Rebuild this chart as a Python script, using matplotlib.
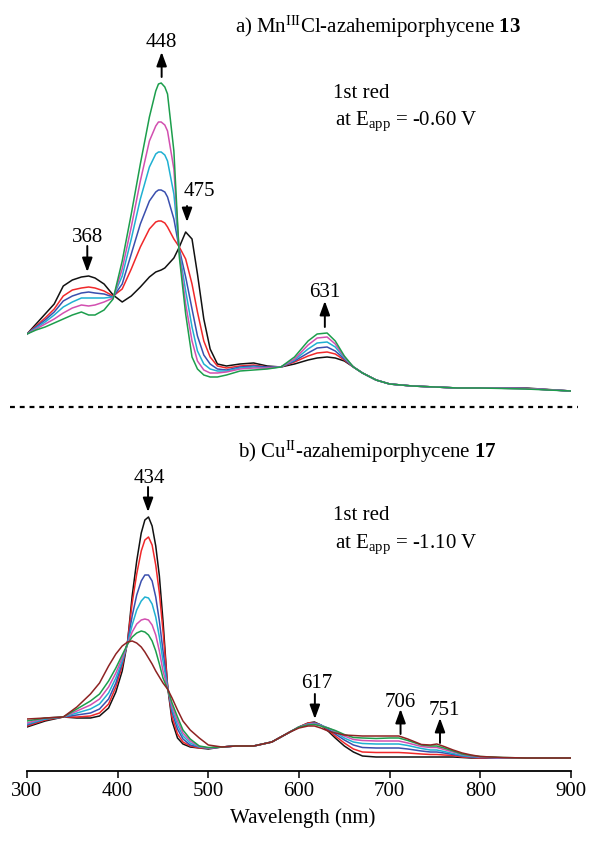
import matplotlib
matplotlib.use("Agg")
import matplotlib.pyplot as plt
from matplotlib.lines import Line2D

plt.rcParams['font.family'] = ['Liberation Serif', 'DejaVu Serif']
plt.rcParams['mathtext.fontset'] = 'custom'
plt.rcParams['mathtext.rm'] = 'Liberation Serif'
plt.rcParams['mathtext.it'] = 'Liberation Serif:italic'
plt.rcParams['mathtext.bf'] = 'Liberation Serif:bold'

# ---------------- data: panel a (Mn(III)Cl-azahemiporphycene 13) ----------------
W_top = [300, 310, 320, 330, 340, 350, 360, 368, 375, 385, 395, 405, 415, 425, 435, 442, 445,
         448, 452, 455, 462, 468, 475, 482, 488, 495, 502, 510, 520, 535, 550, 565, 580, 595,
         610, 620, 631, 640, 650, 660, 670, 685, 700, 725, 750, 775, 800, 850, 900]
black_top = [0.65, 0.75, 0.85, 0.95, 1.13, 1.19, 1.22, 1.23, 1.21, 1.15, 1.04,
             0.97, 1.03, 1.12, 1.22, 1.27, 1.28, 1.29, 1.31,
             1.34, 1.41, 1.52, 1.67, 1.60, 1.25, 0.80, 0.50, 0.35,
             0.33, 0.35, 0.36, 0.33, 0.32, 0.35, 0.39, 0.41, 0.42, 0.41, 0.38, 0.32,
             0.26, 0.19, 0.15, 0.13, 0.12, 0.11, 0.11, 0.11, 0.08]
red_top = [0.65, 0.73, 0.81, 0.90, 1.03, 1.09, 1.11, 1.12, 1.11, 1.08, 1.03,
           1.10, 1.30, 1.52, 1.70, 1.77, 1.78, 1.78, 1.76,
           1.72, 1.60, 1.52, 1.40, 1.15, 0.87, 0.58, 0.42, 0.33,
           0.31, 0.33, 0.34, 0.32, 0.32, 0.37, 0.43, 0.46, 0.47, 0.45, 0.39, 0.32,
           0.26, 0.19, 0.15, 0.13, 0.12, 0.11, 0.11, 0.105, 0.08]
blue_top = [0.65, 0.72, 0.79, 0.87, 0.98, 1.03, 1.06, 1.07, 1.06, 1.05, 1.02,
            1.15, 1.45, 1.75, 1.98, 2.07, 2.09, 2.09, 2.07,
            2.02, 1.80, 1.50, 1.22, 0.90, 0.63, 0.44, 0.35, 0.30,
            0.29, 0.32, 0.33, 0.32, 0.32, 0.38, 0.46, 0.51, 0.52, 0.48, 0.40, 0.32,
            0.26, 0.19, 0.15, 0.13, 0.12, 0.11, 0.11, 0.105, 0.08]
cyan_top = [0.65, 0.71, 0.77, 0.84, 0.92, 0.97, 1.01, 1.01, 1.01, 1.01, 1.02,
            1.23, 1.60, 2.00, 2.32, 2.45, 2.47, 2.47, 2.44,
            2.38, 2.05, 1.48, 1.08, 0.72, 0.48, 0.35, 0.30, 0.28,
            0.28, 0.31, 0.32, 0.31, 0.32, 0.39, 0.50, 0.56, 0.57, 0.52, 0.41, 0.32,
            0.26, 0.19, 0.15, 0.13, 0.12, 0.11, 0.11, 0.105, 0.08]
magenta_top = [0.65, 0.70, 0.75, 0.80, 0.86, 0.91, 0.94, 0.93, 0.94, 0.97, 1.01,
               1.30, 1.72, 2.18, 2.58, 2.73, 2.77, 2.77, 2.74,
               2.68, 2.30, 1.46, 0.95, 0.58, 0.38, 0.29, 0.26, 0.26,
               0.27, 0.30, 0.31, 0.31, 0.32, 0.40, 0.54, 0.61, 0.62, 0.55, 0.42, 0.32,
               0.26, 0.19, 0.15, 0.13, 0.12, 0.11, 0.11, 0.105, 0.08]
green_top = [0.65, 0.69, 0.72, 0.76, 0.80, 0.84, 0.87, 0.84, 0.84, 0.89, 1.00,
             1.38, 1.85, 2.35, 2.82, 3.08, 3.15, 3.16, 3.12,
             3.05, 2.48, 1.42, 0.85, 0.42, 0.30, 0.24, 0.22, 0.22,
             0.24, 0.28, 0.29, 0.30, 0.32, 0.42, 0.58, 0.65, 0.66, 0.58, 0.43, 0.32,
             0.26, 0.19, 0.15, 0.13, 0.12, 0.11, 0.11, 0.10, 0.08]

# ---------------- data: panel b (Cu(II)-azahemiporphycene 17) ----------------
W_bot = [300, 320, 340, 355, 370, 380, 390, 398, 405, 411,
         416, 421, 426, 430, 434, 438, 442, 446, 450, 455,
         460, 466, 472, 480, 490, 500, 515, 530, 550, 570,
         590, 600, 610, 617, 624, 632, 640, 650, 660, 670,
         685, 700, 710, 720, 735, 745, 752, 760, 770, 780,
         790, 800, 825, 850, 900]
black_bot = [0.44, 0.50, 0.54, 0.53, 0.53, 0.55, 0.63, 0.79, 1.00, 1.30,
             1.75, 2.10, 2.38, 2.51, 2.54, 2.45, 2.25, 1.95, 1.50, 0.85,
             0.50, 0.33, 0.27, 0.24, 0.23, 0.22, 0.24, 0.25, 0.25, 0.29,
             0.39, 0.44, 0.48, 0.49, 0.46, 0.40, 0.33, 0.25, 0.19, 0.15,
             0.14, 0.14, 0.14, 0.14, 0.14, 0.14, 0.14, 0.14, 0.14, 0.135,
             0.13, 0.13, 0.13, 0.13, 0.13]
red_bot = [0.45, 0.51, 0.54, 0.54, 0.55, 0.58, 0.67, 0.84, 1.05, 1.30,
           1.68, 1.97, 2.20, 2.31, 2.34, 2.26, 2.06, 1.78, 1.40, 0.86,
           0.54, 0.37, 0.29, 0.25, 0.23, 0.23, 0.24, 0.25, 0.25, 0.29,
           0.39, 0.44, 0.48, 0.485, 0.46, 0.41, 0.35, 0.28, 0.22, 0.19,
           0.185, 0.185, 0.185, 0.18, 0.17, 0.165, 0.165, 0.16, 0.155, 0.14,
           0.135, 0.13, 0.13, 0.13, 0.13]
blue_bot = [0.46, 0.52, 0.54, 0.56, 0.58, 0.62, 0.72, 0.88, 1.08, 1.29,
            1.55, 1.76, 1.90, 1.96, 1.96, 1.90, 1.74, 1.50, 1.20, 0.85,
            0.59, 0.42, 0.32, 0.26, 0.24, 0.23, 0.24, 0.25, 0.25, 0.29,
            0.39, 0.44, 0.47, 0.48, 0.46, 0.42, 0.37, 0.31, 0.26, 0.235,
            0.23, 0.23, 0.23, 0.22, 0.20, 0.19, 0.19, 0.18, 0.165, 0.15,
            0.14, 0.135, 0.13, 0.13, 0.13]
cyan_bot = [0.47, 0.52, 0.54, 0.58, 0.62, 0.67, 0.78, 0.93, 1.10, 1.28,
            1.46, 1.61, 1.70, 1.74, 1.73, 1.67, 1.54, 1.34, 1.10, 0.84,
            0.62, 0.46, 0.35, 0.28, 0.24, 0.23, 0.24, 0.25, 0.25, 0.29,
            0.39, 0.44, 0.47, 0.475, 0.46, 0.43, 0.39, 0.33, 0.29, 0.275,
            0.27, 0.27, 0.27, 0.255, 0.225, 0.21, 0.21, 0.195, 0.175, 0.155,
            0.145, 0.14, 0.13, 0.13, 0.13]
magenta_bot = [0.48, 0.53, 0.54, 0.60, 0.66, 0.72, 0.84, 0.98, 1.13, 1.27,
               1.39, 1.47, 1.51, 1.52, 1.51, 1.46, 1.36, 1.20, 1.00, 0.83,
               0.65, 0.50, 0.38, 0.30, 0.245, 0.23, 0.24, 0.25, 0.25, 0.29,
               0.39, 0.44, 0.465, 0.47, 0.455, 0.43, 0.40, 0.35, 0.315, 0.305,
               0.30, 0.30, 0.30, 0.28, 0.245, 0.235, 0.235, 0.215, 0.19, 0.165,
               0.15, 0.14, 0.13, 0.13, 0.13]
green_bot = [0.50, 0.53, 0.54, 0.62, 0.70, 0.77, 0.90, 1.03, 1.16, 1.27,
             1.34, 1.38, 1.40, 1.39, 1.36, 1.30, 1.20, 1.07, 0.93, 0.82,
             0.68, 0.54, 0.41, 0.32, 0.25, 0.235, 0.24, 0.25, 0.25, 0.29,
             0.39, 0.44, 0.46, 0.465, 0.45, 0.43, 0.405, 0.365, 0.335, 0.33,
             0.325, 0.33, 0.33, 0.305, 0.26, 0.25, 0.25, 0.23, 0.20, 0.17,
             0.155, 0.145, 0.135, 0.13, 0.13]
brown_bot = [0.52, 0.53, 0.54, 0.64, 0.77, 0.88, 1.05, 1.17, 1.25, 1.29,
             1.30, 1.28, 1.24, 1.19, 1.13, 1.07, 1.00, 0.94, 0.88, 0.82,
             0.73, 0.61, 0.50, 0.41, 0.33, 0.26, 0.24, 0.25, 0.25, 0.29,
             0.39, 0.43, 0.45, 0.45, 0.43, 0.40, 0.38, 0.36, 0.355, 0.35,
             0.35, 0.35, 0.35, 0.32, 0.265, 0.26, 0.27, 0.245, 0.21, 0.18,
             0.16, 0.145, 0.135, 0.13, 0.13]

x_ticks = [300, 400, 500, 600, 700, 800, 900]

# colours
C_BLACK, C_RED, C_BLUE = '#111111', '#f0282a', '#3a4fae'
C_CYAN, C_MAG, C_GREEN, C_BROWN = '#1fb0d2', '#d24fb0', '#1c9e4c', '#8e2323'

top_series = [(black_top, C_BLACK), (red_top, C_RED), (blue_top, C_BLUE),
              (cyan_top, C_CYAN), (magenta_top, C_MAG), (green_top, C_GREEN)]
bot_series = [(black_bot, C_BLACK), (red_bot, C_RED), (blue_bot, C_BLUE),
              (cyan_bot, C_CYAN), (magenta_bot, C_MAG), (green_bot, C_GREEN),
              (brown_bot, C_BROWN)]

# peak annotations: (label, label_x, label_y, arrow_x, tail_y, head_y)
top_notes = [("448", 448.5, 3.53, 448.5, 3.22, 3.47),
             ("475", 490.5, 2.04, 476.5, 1.93, 1.77),
             ("368", 367.0, 1.58, 366.5, 1.53, 1.27),
             ("631", 628.5, 1.03, 628.5, 0.72, 0.98)]
bot_notes = [("434", 435.5, 2.89, 433.5, 2.84, 2.59),
             ("617", 619.5, 0.84, 617.5, 0.77, 0.52),
             ("706", 711.5, 0.65, 712.0, 0.37, 0.62),
             ("751", 760.3, 0.57, 755.5, 0.28, 0.53)]

FS = 15
W, H = 601, 845
fig = plt.figure(figsize=(W / 100, H / 100), dpi=100)


def rect(x0, y0, x1, y1):
    return [x0 / W, 1 - y1 / H, (x1 - x0) / W, (y1 - y0) / H]


ax1 = fig.add_axes(rect(27, 30, 571, 400))
ax2 = fig.add_axes(rect(27, 440, 571, 772))

for vals, col in top_series:
    ax1.plot(W_top, vals, color=col, lw=1.1, solid_joinstyle='round')
for vals, col in bot_series:
    ax2.plot(W_bot, vals, color=col, lw=1.1, solid_joinstyle='round')

ax1.set_xlim(300, 900)
ax1.set_ylim(0, 3.7)
ax1.axis('off')

ax2.set_xlim(300, 900)
ax2.set_ylim(0, 3.32)
for s in ['top', 'left', 'right']:
    ax2.spines[s].set_visible(False)
ax2.spines['bottom'].set_linewidth(1.3)
ax2.set_yticks([])
ax2.set_xticks(x_ticks)
ax2.set_xticklabels([str(t) for t in x_ticks])
ax2.tick_params(axis='x', direction='out', length=5, width=1.1, labelsize=FS, pad=2)

arrow_kw = dict(arrowstyle='-|>,head_length=0.6,head_width=0.22', color='k', lw=1.4,
                shrinkA=0, shrinkB=0, mutation_scale=14)
for ax, notes in [(ax1, top_notes), (ax2, bot_notes)]:
    for lab, lx, ly, axx, ty, hy in notes:
        ax.text(lx, ly, lab, ha='center', va='baseline', fontsize=FS)
        ax.annotate('', xy=(axx, hy), xytext=(axx, ty), arrowprops=arrow_kw)

# titles and condition texts
fig.text(235 / W, 1 - 33 / H, r'a) Mn$^{\mathrm{III}}$Cl-azahemiporphycene $\mathbf{13}$',
         fontsize=FS, va='baseline', ha='left')
fig.text(333 / W, 1 - 98 / H, '1st red', fontsize=FS, va='baseline', ha='left')
fig.text(335 / W, 1 - 125 / H, r'at E$_{\mathrm{app}}$ = -0.60 V', fontsize=FS,
         va='baseline', ha='left')

fig.text(238 / W, 1 - 458 / H, r'b) Cu$^{\mathrm{II}}$-azahemiporphycene $\mathbf{17}$',
         fontsize=FS, va='baseline', ha='left')
fig.text(333 / W, 1 - 520 / H, '1st red', fontsize=FS, va='baseline', ha='left')
fig.text(335 / W, 1 - 548 / H, r'at E$_{\mathrm{app}}$ = -1.10 V', fontsize=FS,
         va='baseline', ha='left')

fig.text(303 / W, 1 - 823 / H, 'Wavelength (nm)', fontsize=FS, va='baseline', ha='center')

# dashed separator
fig.add_artist(Line2D([10 / W, 578 / W], [1 - 408 / H, 1 - 408 / H], transform=fig.transFigure,
                      color='k', lw=1.6, ls=(0, (2.2, 2.2))))

fig.savefig('out.png', dpi=100)
